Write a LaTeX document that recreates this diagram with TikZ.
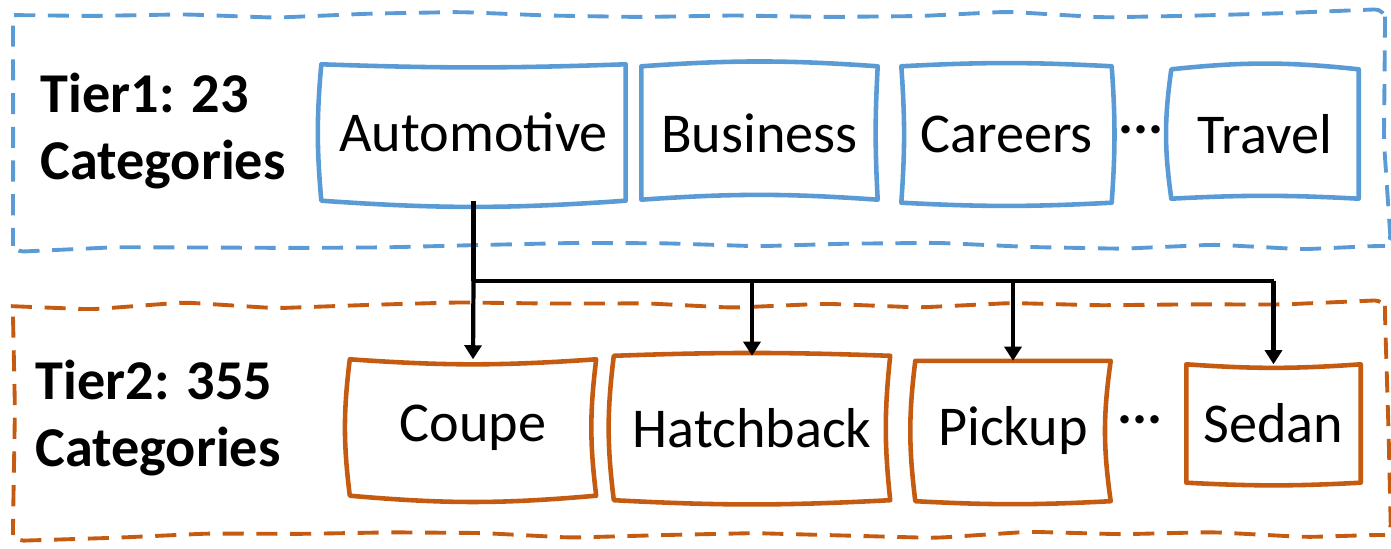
\documentclass[tikz,border=0pt]{standalone}
\usepackage{fontspec}
\setmainfont{Carlito}
\usetikzlibrary{arrows.meta,positioning,calc,decorations.pathmorphing}

\definecolor{tierblue}{HTML}{5B9BD5}
\definecolor{tierorange}{HTML}{C55A11}

% hand-drawn outline round a node: colour, node, bends of top/right/bottom/left
\newcommand{\sketchbox}[6]{%
  \draw[#1, line width=1.3pt, line join=round]
    (#2.north west) to[bend left=#3] (#2.north east)
    to[bend left=#4] (#2.south east)
    to[bend left=#5] (#2.south west)
    to[bend left=#6] (#2.north west) -- cycle;}

\begin{document}
\begin{tikzpicture}[
    sketch/.style={decorate, decoration={random steps, segment length=26pt, amplitude=1.1pt}, rounded corners=3pt},
    catbox/.style={inner sep=0pt, font=\fontsize{16}{19}\selectfont},
    tierlabel/.style={anchor=west, align=left, inner sep=0pt, font=\fontsize{16}{19}\selectfont\bfseries},
    frame/.style={sketch, dash pattern=on 6pt off 3.6pt, line width=1.1pt},
    link/.style={line width=1.2pt},
    linkarrow/.style={line width=1.2pt, -{Triangle[length=4pt,width=4.8pt]}}
]
    \pgfmathsetseed{11}
    \useasboundingbox (0,0) rectangle (13.91,-5.49);

    % Tier frames
    \draw[frame, tierblue] (0.13,-0.15) rectangle (13.85,-2.46);
    \draw[frame, tierorange] (0.13,-3.06) rectangle (13.85,-5.35);

    % Tier 1
    \node[tierlabel] (tier1) at (0.40,-1.31) {Tier1: 23\\Categories};
    \node[catbox, minimum width=3.03cm, minimum height=1.35cm] (auto) at (4.735,-1.325) {Automotive};
    \node[catbox, minimum width=2.35cm, minimum height=1.32cm] (bus) at (7.595,-1.33) {Business};
    \node[catbox, minimum width=2.09cm, minimum height=1.35cm] (car) at (10.065,-1.345) {Careers};
    \node[font=\fontsize{16}{19}\selectfont\bfseries] (dots1) at (11.41,-1.30) {...};
    \node[catbox, minimum width=1.86cm, minimum height=1.28cm] (trav) at (12.65,-1.34) {Travel};

    \sketchbox{tierblue}{auto}{-2}{0}{4}{5}
    \sketchbox{tierblue}{bus}{4}{-3}{-4}{0}
    \sketchbox{tierblue}{car}{3}{4}{3}{-4}
    \sketchbox{tierblue}{trav}{6}{0}{-3}{8}

    % Tier 2
    \node[tierlabel] (tier2) at (0.35,-4.18) {Tier2: 355\\Categories};
    \node[catbox, minimum width=2.45cm, minimum height=1.35cm] (coupe) at (4.73,-4.275) {Coupe};
    \node[catbox, minimum width=2.75cm, minimum height=1.43cm] (hatch) at (7.52,-4.28) {Hatchback};
    \node[catbox, minimum width=1.94cm, minimum height=1.39cm] (pick) at (10.13,-4.31) {Pickup};
    \node[font=\fontsize{16}{19}\selectfont\bfseries] (dots2) at (11.40,-4.20) {...};
    \node[catbox, minimum width=1.73cm, minimum height=1.17cm] (sedan) at (12.735,-4.235) {Sedan};

    \sketchbox{tierorange}{coupe}{-4}{-7}{5}{7}
    \sketchbox{tierorange}{hatch}{2}{-6}{3}{7}
    \sketchbox{tierorange}{pick}{0}{-8}{3}{7}
    \sketchbox{tierorange}{sedan}{-4}{0}{3}{0}

    % Links from Automotive to its subcategories
    \coordinate (split) at ($(auto.south)+(0,-0.80)$);
    \draw[link] (auto.south) -- (split);
    \draw[link] (split) -- (split -| sedan.north);
    \draw[linkarrow] (split) -- (coupe.north);
    \draw[linkarrow] (split -| hatch.north) -- (hatch.north);
    \draw[linkarrow] (split -| pick.north) -- (pick.north);
    \draw[linkarrow] (split -| sedan.north) -- (sedan.north);
\end{tikzpicture}
\end{document}
